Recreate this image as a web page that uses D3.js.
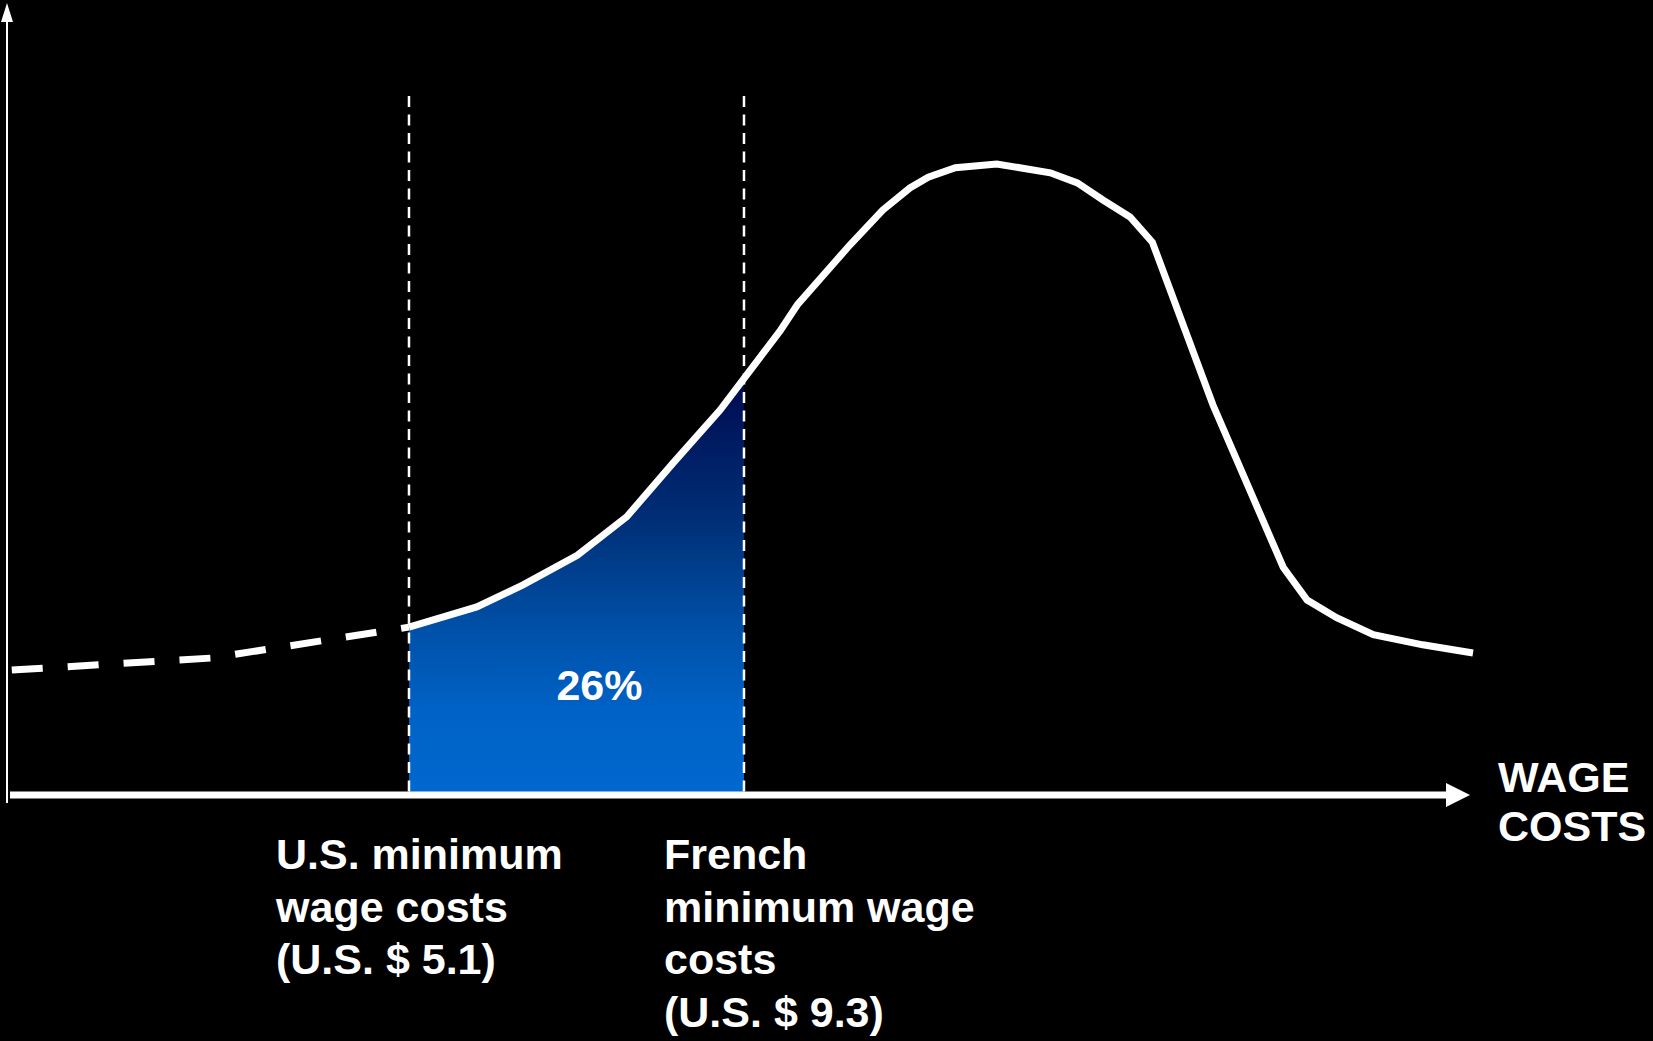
<!DOCTYPE html>
<meta charset="utf-8">
<style>
body { margin: 0; background: #000; }
svg { display: block; background: #000; }
.lbl text {
  font-family: "Liberation Sans", Arial, sans-serif;
  font-weight: bold;
  font-size: 43px;
  fill: #fff;
}
</style>
<svg width="1653" height="1041"></svg>
<script src="https://cdnjs.cloudflare.com/ajax/libs/d3/7.8.5/d3.min.js"></script>
<script>

// wage cost (US $) and share of employees (peak = 100)
var dashedWage  = [0.12, 2.62, 5.1];
var dashedShare = [19.8, 21.7, 26.6];

var curveWage  = [5.1, 5.95, 6.53, 7.21, 7.83, 8.41, 9.0, 9.75, 9.97, 10.63, 11.04, 11.38, 11.61, 11.95, 12.47,
                  13.14, 13.48, 13.8, 14.14, 14.42, 15.18, 16.06, 16.36, 16.73, 17.19, 17.81, 18.44];
var curveShare = [26.6, 29.8, 33.3, 38.0, 44.1, 52.6, 61.0, 73.5, 77.7, 87.2, 92.7, 96.2, 97.9, 99.4, 100,
                  98.6, 97.0, 94.3, 91.6, 87.6, 61.8, 36.1, 30.9, 28.1, 25.4, 23.8, 22.5];

var minWages = [5.1, 9.3];
var shareBetween = "26%";
var usLabel = ["U.S. minimum", "wage costs", "(U.S. $ 5.1)"];
var frLabel = ["French", "minimum wage", "costs", "(U.S. $ 9.3)"];
var axisLabel = ["WAGE", "COSTS"];

var svg = d3.select("svg");

var x = d3.scaleLinear().domain([0, 18.5]).range([2.2, 1477.8]);
var y = d3.scaleLinear().domain([0, 100]).range([795, 164]);

var dashed = dashedWage.map(function(d, i) { return [d, dashedShare[i]]; });
var curve = curveWage.map(function(d, i) { return [d, curveShare[i]]; });

var defs = svg.append("defs");
var grad = defs.append("linearGradient")
    .attr("id", "blue")
    .attr("gradientUnits", "userSpaceOnUse")
    .attr("x1", 0).attr("x2", 0)
    .attr("y1", 378).attr("y2", y(0));
grad.append("stop").attr("offset", 0).attr("stop-color", "#000a50");
grad.append("stop").attr("offset", 0.35).attr("stop-color", "#003078");
grad.append("stop").attr("offset", 0.6).attr("stop-color", "#0050a8");
grad.append("stop").attr("offset", 0.8).attr("stop-color", "#0062c6");
grad.append("stop").attr("offset", 1).attr("stop-color", "#0068d0");

defs.append("clipPath").attr("id", "between")
  .append("rect")
    .attr("x", x(minWages[0]))
    .attr("y", 0)
    .attr("width", x(minWages[1]) - x(minWages[0]))
    .attr("height", y(0));

// shaded share between the two minimum wages
var area = d3.area()
    .x(function(d) { return x(d[0]); })
    .y0(y(0))
    .y1(function(d) { return y(d[1]); });

svg.append("path")
    .datum(curve)
    .attr("d", area)
    .attr("fill", "url(#blue)")
    .attr("clip-path", "url(#between)");

// min wage markers
svg.append("g")
  .selectAll("line")
  .data(minWages)
  .enter().append("line")
    .attr("x1", function(d) { return x(d); })
    .attr("x2", function(d) { return x(d); })
    .attr("y1", 96)
    .attr("y2", y(0))
    .attr("stroke", "#fff")
    .attr("stroke-width", 2.5)
    .attr("stroke-dasharray", "11,7.5");

var line = d3.line()
    .x(function(d) { return x(d[0]); })
    .y(function(d) { return y(d[1]); });

svg.append("path")
    .datum(dashed)
    .attr("d", line)
    .attr("fill", "none")
    .attr("stroke", "#fff")
    .attr("stroke-width", 7)
    .attr("stroke-dasharray", "31,25");

svg.append("path")
    .datum(curve)
    .attr("d", line)
    .attr("fill", "none")
    .attr("stroke", "#fff")
    .attr("stroke-width", 7)
    .attr("stroke-linejoin", "miter");

// axes
svg.append("line")
    .attr("x1", 7).attr("x2", 7)
    .attr("y1", 803).attr("y2", 14)
    .attr("stroke", "#fff")
    .attr("stroke-width", 2);
svg.append("path")
    .attr("d", "M7,3L13,22L1,22Z")
    .attr("fill", "#fff");

svg.append("line")
    .attr("x1", 10).attr("x2", 1448)
    .attr("y1", y(0)).attr("y2", y(0))
    .attr("stroke", "#fff")
    .attr("stroke-width", 7);
svg.append("path")
    .attr("d", "M1446,783L1470,795L1446,807Z")
    .attr("fill", "#fff");

// labels
var lbl = svg.append("g").attr("class", "lbl");

lbl.append("text")
    .attr("x", (x(minWages[0]) + x(minWages[1])) / 2 + 23)
    .attr("y", 700)
    .attr("text-anchor", "middle")
    .text(shareBetween);

lbl.selectAll("text.ax")
  .data(axisLabel)
  .enter().append("text")
    .attr("class", "ax")
    .attr("x", 1498)
    .attr("y", function(d, i) { return 792 + i * 49; })
    .text(function(d) { return d; });

lbl.selectAll("text.us")
  .data(usLabel)
  .enter().append("text")
    .attr("class", "us")
    .attr("x", 276)
    .attr("y", function(d, i) { return 869 + i * 52.5; })
    .text(function(d) { return d; });

lbl.selectAll("text.fr")
  .data(frLabel)
  .enter().append("text")
    .attr("class", "fr")
    .attr("x", 664)
    .attr("y", function(d, i) { return 869 + i * 52.5; })
    .text(function(d) { return d; });

</script>
